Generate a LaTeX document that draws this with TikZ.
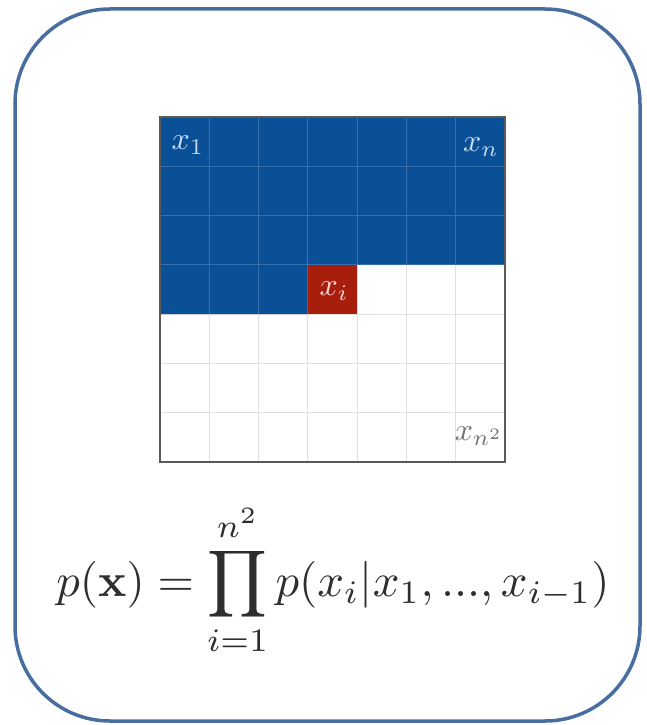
\documentclass[tikz,border=0pt]{standalone}
\usepackage{amsmath}
\usepackage{graphicx}
\definecolor{frameblue}{RGB}{72,110,160}
\definecolor{cellblue}{RGB}{10,80,150}
\definecolor{cellred}{RGB}{168,30,12}
\definecolor{lbl}{RGB}{200,220,242}
\begin{document}
\begin{tikzpicture}[x=1pt,y=-1pt,
  lab/.style={inner sep=0pt,scale=3.2},
]
\useasboundingbox (0,0) rectangle (646,725);
\fill[white] (0,0) rectangle (646,725);
% frame
\draw[frameblue,line width=3.5pt,rounded corners=95pt] (15,9) rectangle (640,721);
% grid
\def\s{49.2857}
\fill[cellblue] (160,117) -- (505,117) -- (505,264.86) -- (307.86,264.86) -- (307.86,314.14) -- (160,314.14) -- cycle;
\fill[cellred] (307.86,264.86) rectangle (357.14,314.14);
\begin{scope}
\clip (160,117) rectangle (505,462);
\foreach \i in {1,...,6}{
  \draw[black!12,line width=0.8pt] ({160+\i*\s},117) -- ({160+\i*\s},462);
  \draw[black!12,line width=0.8pt] (160,{117+\i*\s}) -- (505,{117+\i*\s});
}
\end{scope}
\begin{scope}
\clip (160,117) -- (505,117) -- (505,264.86) -- (307.86,264.86) -- (307.86,314.14) -- (160,314.14) -- cycle;
\foreach \i in {1,...,6}{
  \draw[cellblue!82!white,line width=0.8pt] ({160+\i*\s},117) -- ({160+\i*\s},462);
  \draw[cellblue!82!white,line width=0.8pt] (160,{117+\i*\s}) -- (505,{117+\i*\s});
}
\end{scope}
\draw[black!65,line width=1.8pt] (160,117) rectangle (505,462);
\node[lab,text=lbl] (x1) at (188,145) {$x_1$};
\node[lab,text=lbl] (xn) at (481,147) {$x_n$};
\node[lab,text=red!15!white] (xi) at (334,291) {$x_i$};
\node[lab,text=black!55] (xn2) at (479,436) {$x_{n^2}$};
% formula
\node[inner sep=0pt,text=black!82] (f) at (333,580) {\resizebox{553pt}{!}{$\displaystyle p(\mathbf{x}) = \prod_{i=1}^{n^2} p(x_i|x_1,...,x_{i-1})$}};
\end{tikzpicture}
\end{document}
